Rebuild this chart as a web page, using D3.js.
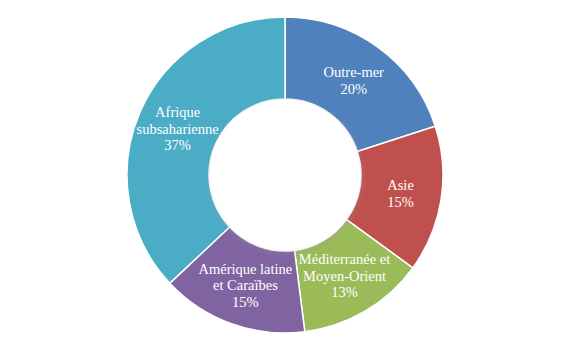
<!DOCTYPE html>
<html>
<head>
<meta charset="utf-8">
<script src="https://cdn.jsdelivr.net/npm/d3@7"></script>
<style>
  html, body { margin: 0; padding: 0; background: #fff; }
  svg { display: block; }
</style>
</head>
<body>
<svg id="chart" width="567" height="346"></svg>
<script>
const categories = ["Outre-mer", "Asie", "Méditerranée et Moyen-Orient", "Amérique latine et Caraïbes", "Afrique subsaharienne"];
const labelLines = [["Outre-mer"], ["Asie"], ["Méditerranée et", "Moyen-Orient"], ["Amérique latine", "et Caraïbes"], ["Afrique", "subsaharienne"]];
const values = [20, 15, 13, 15, 37];
const percentLabels = ["20%", "15%", "13%", "15%", "37%"];
const colors = ["#4F81BD", "#C0504D", "#9BBB59", "#8064A2", "#4BACC6"];

const svg = d3.select("#chart");
const cx = 285, cy = 175, outerR = 158, innerR = 76;

const defs = svg.append("defs");
const f = defs.append("filter").attr("id", "inshadow").attr("x", "-20%").attr("y", "-20%").attr("width", "140%").attr("height", "140%");
f.append("feGaussianBlur").attr("stdDeviation", 2);

const g = svg.append("g").attr("transform", `translate(${cx},${cy})`);

const pie = d3.pie().sort(null).value(d => d)(values);
const arc = d3.arc().innerRadius(innerR).outerRadius(outerR);

g.selectAll("path.slice")
  .data(pie)
  .join("path")
  .attr("class", "slice")
  .attr("d", arc)
  .attr("fill", (d, i) => colors[i])
  .attr("stroke", "#fff")
  .attr("stroke-width", 1.5);

// subtle inner hole shading
g.append("circle")
  .attr("cx", 1).attr("cy", 2)
  .attr("r", innerR)
  .attr("fill", "none")
  .attr("stroke", "#999")
  .attr("stroke-width", 2)
  .attr("opacity", 0.5)
  .attr("filter", "url(#inshadow)");
g.append("circle")
  .attr("r", innerR - 0.5)
  .attr("fill", "#fff");

const lh = 16.5;
const labels = g.selectAll("text.lbl")
  .data(pie)
  .join("text")
  .attr("class", "lbl")
  .attr("text-anchor", "middle")
  .attr("fill", "#fff")
  .style("font-family", "'Liberation Serif', 'DejaVu Serif', serif")
  .style("font-size", "14.5px");

labels.each(function(d, i) {
  const [x, y] = arc.centroid(d);
  const lines = labelLines[i].concat([percentLabels[i]]);
  const y0 = y - (lines.length - 1) * lh / 2 + 5;
  const t = d3.select(this);
  lines.forEach((ln, k) => {
    t.append("tspan").attr("x", x).attr("y", y0 + k * lh).text(ln);
  });
});
</script>
</body>
</html>
